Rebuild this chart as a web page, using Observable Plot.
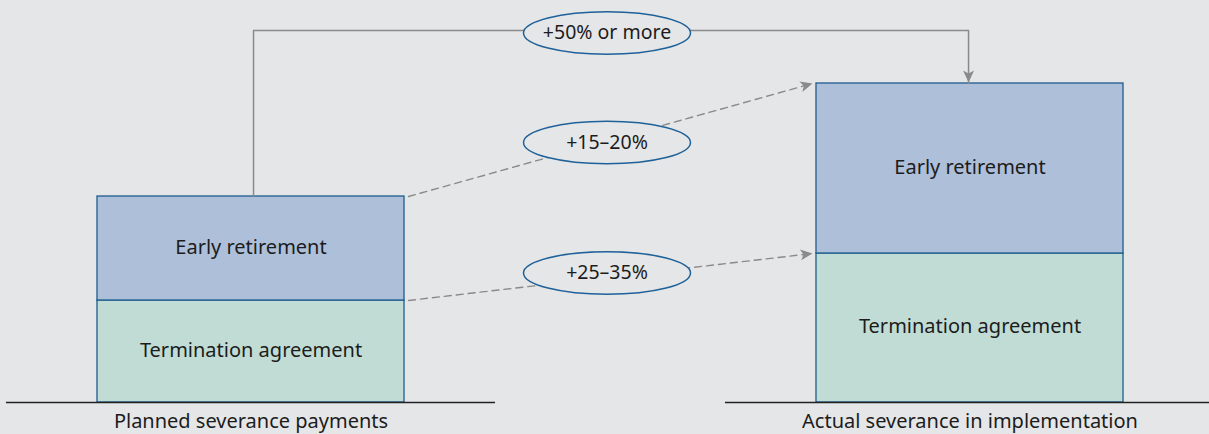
<!DOCTYPE html>
<html><head><meta charset="utf-8">
<script src="https://cdn.jsdelivr.net/npm/d3@7"></script>
<script src="https://cdn.jsdelivr.net/npm/@observablehq/plot@0.6"></script>
<style>
html,body{margin:0;padding:0;background:#e5e6e8;}
#chart{width:1209px;height:434px;overflow:hidden;}
</style></head><body><div id="chart"></div>
<script>
// ---- data ----
const categories = ["Planned severance payments", "Actual severance in implementation"];
const segments = ["Termination agreement", "Early retirement"];
const termination = [102, 149];      // relative size (schematic)
const earlyRetirement = [104, 170];  // relative size (schematic)
const increaseLabels = ["+25–35%", "+15–20%", "+50% or more"];
const connectorLevel = 372;          // level of the top bracket, same units as y

// ---- layout constants (x in category-index units) ----
const halfW = 0.2135, gapX = 0.0056, baseExt = 0.1266;

const rows = [];
categories.forEach((c, i) => {
  let base = 0;
  [termination[i], earlyRetirement[i]].forEach((v, j) => {
    rows.push({i, category: c, segment: segments[j], y1: base, y2: base + v});
    base += v;
  });
});
const plannedCum = [termination[0], termination[0] + earlyRetirement[0]];
const actualCum = [termination[1], termination[1] + earlyRetirement[1]];

const BG = "#e5e6e8", INK = "#1c1c1c", EDGE = "#1d5c8e", GREY = "#8a8a8a", OVAL = "#1f6199";
const FONT = 20;
const baseOpts = {
  width: 1209, height: 434, marginTop: 0, marginBottom: 32, marginLeft: 0, marginRight: 0,
  style: {background: BG, fontFamily: "'Noto Sans', sans-serif", fontSize: FONT + "px", color: INK},
  x: {domain: [0, 1], range: [250.5, 969.5], axis: null},
  y: {domain: [0, 402], axis: null},
  color: {domain: segments, range: ["#c0dcd5", "#aebfd9"]}
};
const barMark = Plot.rectY(rows, {x1: d => d.i - halfW, x2: d => d.i + halfW, y1: "y1", y2: "y2",
  fill: "segment", stroke: EDGE, strokeWidth: 1.3});

// first pass: read scales to orient arrowheads
const p0 = Plot.plot({...baseOpts, marks: [barMark]});
const xs = p0.scale("x"), ys = p0.scale("y");
const headLen = 12, notch = 9;

const arrowHead = {draw(ctx) { ctx.moveTo(0, 0); ctx.lineTo(5.5, headLen); ctx.lineTo(0, notch); ctx.lineTo(-5.5, headLen); ctx.closePath(); }};
const rx = 83.5, ry = 21.3, k = 0.5523;
const ellipse = {draw(ctx) {
  ctx.moveTo(rx, 0);
  ctx.bezierCurveTo(rx, k * ry, k * rx, ry, 0, ry);
  ctx.bezierCurveTo(-k * rx, ry, -rx, k * ry, -rx, 0);
  ctx.bezierCurveTo(-rx, -k * ry, -k * rx, -ry, 0, -ry);
  ctx.bezierCurveTo(k * rx, -ry, rx, -k * ry, rx, 0);
  ctx.closePath();
}};

const xStart = 0 + halfW + gapX, xEnd = 1 - halfW - gapX;
const flows = [
  {v0: plannedCum[0], v1: actualCum[0], label: increaseLabels[0], shift: -4},
  {v0: plannedCum[1], v1: actualCum[1], label: increaseLabels[1], shift: 2.5}
].map(f => {
  const dxp = xs.apply(xEnd) - xs.apply(xStart), dyp = ys.apply(f.v1) - ys.apply(f.v0);
  return {...f, x1: xStart, x2: xEnd, angle: Math.atan2(dyp, dxp) * 180 / Math.PI + 90};
});

const marks = [barMark];
for (const f of flows) {
  marks.push(Plot.arrow([f], {x1: "x1", y1: "v0", x2: "x2", y2: "v1",
    insetEnd: notch, headLength: 0, stroke: GREY, strokeWidth: 1.4, strokeDasharray: "7,5"}));
  marks.push(Plot.dot([f], {x: "x2", y: "v1", symbol: arrowHead, rotate: f.angle, fill: GREY, stroke: "none", r: 6}));
}
// solid bracket
const bracket = [
  {x: 0.0035, y: plannedCum[1]},
  {x: 0.0035, y: connectorLevel},
  {x: 0.998, y: connectorLevel},
  {x: 0.998, y: actualCum[1]}
];
marks.push(Plot.line(bracket, {x: "x", y: "y", stroke: GREY, strokeWidth: 1.5}));
marks.push(Plot.dot([bracket[3]], {x: "x", y: "y", dy: -1, symbol: arrowHead, rotate: 180, fill: GREY, stroke: "none", r: 6}));

// ovals with labels
const ovals = [
  ...flows.map(f => ({y: (f.v0 + f.v1) / 2, label: f.label, shift: f.shift})),
  {y: connectorLevel, label: increaseLabels[2], shift: 2.5}
];
const midX = 0.5 - 3.5 / 719;
for (const o of ovals) {
  marks.push(Plot.dot([o], {x: () => midX, y: "y", dy: o.shift, symbol: ellipse, fill: BG, stroke: OVAL, strokeWidth: 1.5, r: 10}));
  marks.push(Plot.text([o], {x: () => midX, y: "y", dy: o.shift, text: "label", fill: INK, fontSize: 19.5}));
}

// segment labels
marks.push(Plot.text(rows, {x: "i", y: d => (d.y1 + d.y2) / 2, dy: -1, text: "segment", fill: INK, fontSize: FONT}));
// baselines
marks.push(Plot.ruleY([0, 1], {x1: d => d - halfW - baseExt, x2: d => d + halfW + baseExt, y: 0, stroke: "#222", strokeWidth: 1.3}));
// category labels
marks.push(Plot.text(categories, {x: (d, i) => i, y: 0, dy: 19.5, text: d => d, fill: INK, fontSize: FONT, lineAnchor: "middle"}));

const plot = Plot.plot({...baseOpts, marks});
document.getElementById("chart").append(plot);
</script></body></html>
